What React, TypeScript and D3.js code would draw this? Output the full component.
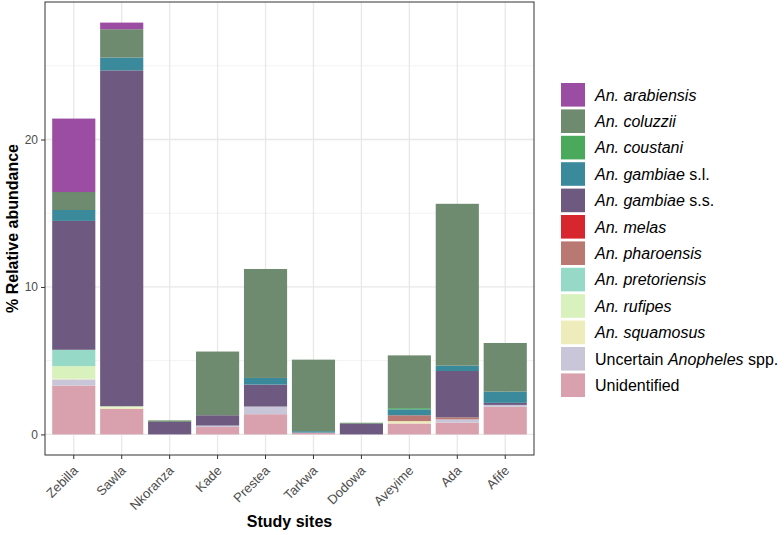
import { useEffect, useRef } from "react";
import * as d3 from "d3";

const sites = ["Zebilla", "Sawla", "Nkoranza", "Kade", "Prestea", "Tarkwa", "Dodowa", "Aveyime", "Ada", "Afife"];

// legend order (top of stack first)
const species = [
  "An. arabiensis",
  "An. coluzzii",
  "An. coustani",
  "An. gambiae s.l.",
  "An. gambiae s.s.",
  "An. melas",
  "An. pharoensis",
  "An. pretoriensis",
  "An. rufipes",
  "An. squamosus",
  "Uncertain Anopheles spp.",
  "Unidentified",
];

// % relative abundance per site, same order as sites
const arabiensis = [4.98, 0.45, 0, 0, 0, 0, 0, 0, 0, 0];
const coluzzii = [1.22, 1.92, 0.1, 4.32, 7.39, 4.85, 0.07, 3.58, 10.98, 3.3];
const coustani = [0, 0, 0, 0, 0, 0, 0, 0.08, 0, 0];
const gambiaeSL = [0.74, 0.87, 0, 0, 0.45, 0.1, 0, 0.4, 0.36, 0.76];
const gambiaeSS = [8.74, 22.78, 0.85, 0.7, 1.49, 0, 0.72, 0, 3.14, 0.14];
const melas = [0, 0, 0, 0, 0, 0, 0, 0, 0, 0];
const pharoensis = [0, 0, 0, 0, 0, 0, 0, 0.4, 0.14, 0];
const pretoriensis = [1.11, 0, 0, 0, 0, 0, 0, 0, 0, 0];
const rufipes = [0.85, 0.08, 0, 0, 0, 0, 0, 0, 0, 0];
const squamosus = [0.05, 0.1, 0, 0, 0, 0, 0, 0.16, 0, 0];
const uncertain = [0.42, 0, 0, 0.1, 0.52, 0, 0, 0, 0.22, 0.13];
const unidentified = [3.31, 1.73, 0, 0.5, 1.37, 0.12, 0, 0.74, 0.8, 1.87];

const series = [
  arabiensis, coluzzii, coustani, gambiaeSL, gambiaeSS, melas,
  pharoensis, pretoriensis, rufipes, squamosus, uncertain, unidentified,
];

const colors = [
  "#9b4ca3", "#6e8a6f", "#4ba95b", "#3b8a9c", "#6e5a81", "#d8262f",
  "#ba7872", "#96d9c6", "#d9f1bc", "#eeecbb", "#c8c6d8", "#d9a1ad",
];

const yTicks = [0, 10, 20];
const yMinor = [5, 15, 25];

const font = "'Liberation Sans', Arial, Helvetica, sans-serif";

// split a label into italic / upright parts
function labelParts(label: string): { t: string; it: boolean }[] {
  if (label.startsWith("Uncertain")) {
    return [
      { t: "Uncertain ", it: false },
      { t: "Anopheles", it: true },
      { t: " spp.", it: false },
    ];
  }
  if (label === "Unidentified") return [{ t: label, it: false }];
  const m = label.match(/^(An\. \w+)(.*)$/);
  if (m && m[2]) return [{ t: m[1], it: true }, { t: m[2], it: false }];
  return [{ t: label, it: true }];
}

export default function App() {
  const ref = useRef<SVGSVGElement>(null);

  useEffect(() => {
    if (!ref.current) return;
    const svg = d3.select(ref.current);
    svg.selectAll("*").remove();

    const width = 784;
    const height = 535;
    const panel = { left: 45, right: 534, top: 2, bottom: 455 };

    const rows = sites.map((s, i) => {
      const row: Record<string, number | string> = { site: s };
      species.forEach((sp, j) => (row[sp] = series[j][i]));
      return row;
    });

    // unidentified at the bottom, arabiensis on top
    const stack = d3.stack<any>().keys([...species].reverse());
    const layers = stack(rows);

    const maxTotal = d3.max(rows, (r) => d3.sum(species, (sp) => r[sp] as number)) || 0;

    const x = d3
      .scaleBand()
      .domain(sites)
      .range([panel.left, panel.right])
      .paddingInner(0.1)
      .paddingOuter(0.15);

    const y = d3
      .scaleLinear()
      .domain([-maxTotal * 0.05, maxTotal * 1.05])
      .range([panel.bottom, panel.top]);

    svg.attr("width", width).attr("height", height).style("font-family", font);

    svg
      .append("rect")
      .attr("width", width)
      .attr("height", height)
      .attr("fill", "#fff");

    const grid = svg.append("g");
    grid
      .selectAll(".minor")
      .data(yMinor)
      .join("line")
      .attr("x1", panel.left)
      .attr("x2", panel.right)
      .attr("y1", (d) => y(d))
      .attr("y2", (d) => y(d))
      .attr("stroke", "#efefef")
      .attr("stroke-width", 0.8);
    grid
      .selectAll(".major")
      .data(yTicks)
      .join("line")
      .attr("x1", panel.left)
      .attr("x2", panel.right)
      .attr("y1", (d) => y(d))
      .attr("y2", (d) => y(d))
      .attr("stroke", "#e8e8e8")
      .attr("stroke-width", 1.3);
    grid
      .selectAll(".vmajor")
      .data(sites)
      .join("line")
      .attr("x1", (d) => (x(d) || 0) + x.bandwidth() / 2)
      .attr("x2", (d) => (x(d) || 0) + x.bandwidth() / 2)
      .attr("y1", panel.top)
      .attr("y2", panel.bottom)
      .attr("stroke", "#e8e8e8")
      .attr("stroke-width", 1.3);

    // stacked bars
    svg
      .append("g")
      .selectAll("g")
      .data(layers)
      .join("g")
      .attr("fill", (d) => colors[species.indexOf(d.key)])
      .selectAll("rect")
      .data((d) => d)
      .join("rect")
      .attr("x", (d) => x(d.data.site as string) || 0)
      .attr("y", (d) => y(d[1]))
      .attr("width", x.bandwidth())
      .attr("height", (d) => Math.max(0, y(d[0]) - y(d[1])));

    // panel border
    svg
      .append("rect")
      .attr("x", panel.left)
      .attr("y", panel.top)
      .attr("width", panel.right - panel.left)
      .attr("height", panel.bottom - panel.top)
      .attr("fill", "none")
      .attr("stroke", "#333")
      .attr("stroke-width", 1);

    // y axis
    const yAxis = svg
      .append("g")
      .attr("transform", `translate(${panel.left},0)`)
      .call(d3.axisLeft(y).tickValues(yTicks).tickSize(4).tickPadding(3));
    yAxis.select(".domain").remove();
    yAxis.selectAll("line").attr("stroke", "#333");
    yAxis
      .selectAll("text")
      .attr("fill", "#4d4d4d")
      .style("font-size", "12px")
      .style("font-family", font);

    // x axis, labels at 45 degrees ending under the tick
    const xAxis = svg
      .append("g")
      .attr("transform", `translate(0,${panel.bottom})`)
      .call(d3.axisBottom(x).tickSize(4).tickPadding(3));
    xAxis.select(".domain").remove();
    xAxis.selectAll("line").attr("stroke", "#333");
    xAxis
      .selectAll("text")
      .attr("fill", "#4d4d4d")
      .style("font-size", "13px")
      .style("font-family", font)
      .attr("text-anchor", "end")
      .attr("x", 0)
      .attr("y", 0)
      .attr("dy", 0)
      .attr("transform", "translate(5,16.5) rotate(-45)");

    // axis titles
    svg
      .append("text")
      .attr("x", (panel.left + panel.right) / 2)
      .attr("y", 527)
      .attr("text-anchor", "middle")
      .style("font-weight", "bold")
      .style("font-size", "16px")
      .text("Study sites");

    svg
      .append("text")
      .attr("transform", "rotate(-90)")
      .attr("x", -(panel.top + panel.bottom) / 2)
      .attr("y", 18)
      .attr("text-anchor", "middle")
      .style("font-weight", "bold")
      .style("font-size", "16px")
      .text("% Relative abundance");

    // legend
    const legend = svg.append("g").attr("transform", "translate(561,83)");
    species.forEach((sp, i) => {
      const row = legend.append("g").attr("transform", `translate(0,${i * 26.4})`);
      row
        .append("rect")
        .attr("width", 24)
        .attr("height", 23.6)
        .attr("fill", colors[i]);
      const t = row
        .append("text")
        .attr("x", 34)
        .attr("y", 17.5)
        .style("font-size", "16px")
        .attr("fill", "#000");
      labelParts(sp).forEach((p) => {
        t.append("tspan")
          .style("font-style", p.it ? "italic" : "normal")
          .text(p.t);
      });
    });
  }, []);

  return (
    <div style={{ position: "absolute", left: 0, top: 0 }}>
      <svg ref={ref}></svg>
    </div>
  );
}
